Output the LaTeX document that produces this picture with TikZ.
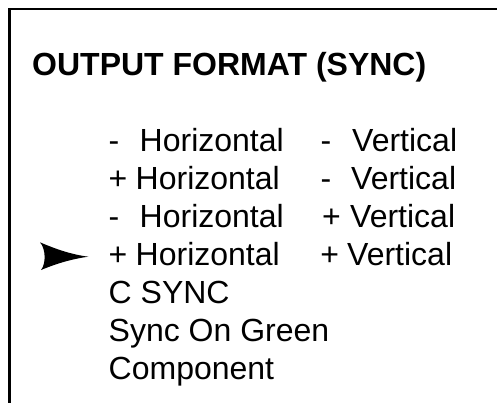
\documentclass[tikz,border=0pt]{standalone}
\usepackage{fontspec}
\setmainfont{Liberation Sans}
\begin{document}
\begin{tikzpicture}[x=1pt,y=-1pt,
    txt/.style={anchor=base west,inner sep=0pt,font=\fontsize{32}{38}\selectfont}]
\useasboundingbox (0,0) rectangle (497,402);
\draw[line width=2.6pt] (9.4,404) -- (9.4,8.8) -- (499,8.8);
\node[txt,font=\fontsize{32}{38}\selectfont\bfseries] (title) at (32,75) {OUTPUT FORMAT (SYNC)};
\foreach \sa/\ha/\sb/\xb/\vb/\r [count=\i] in {-/139.5/-/320.5/352/151,
        +/135.5/-/320.5/351/189, -/139.5/+/321.8/350/227, +/135.5/+/320.2/347/265}{
    \node[txt] (hs\i) at (108.5,\r) {\sa};
    \node[txt] (h\i) at (\ha,\r) {Horizontal};
    \node[txt] (vs\i) at (\xb,\r) {\sb};
    \node[txt] (v\i) at (\vb,\r) {Vertical};
}
\node[txt] (csync) at (108.5,303) {C SYNC};
\node[txt] (sog) at (108.5,341) {Sync On Green};
\node[txt] (comp) at (108.5,379) {Component};
\fill (40,242.3) .. controls (58,250) and (72,254.5) .. (88.3,256.7)
    .. controls (72,259) and (58,263) .. (41,270)
    .. controls (46,264) and (46,249) .. cycle;
\end{tikzpicture}
\end{document}
